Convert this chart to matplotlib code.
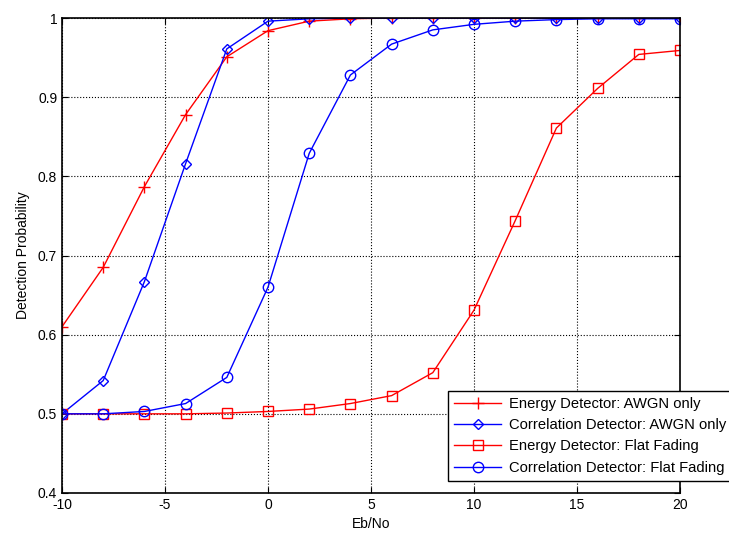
import matplotlib
matplotlib.use("Agg")
import matplotlib.pyplot as plt

plt.rcParams['font.family'] = ['Liberation Sans', 'DejaVu Sans']
plt.rcParams['axes.unicode_minus'] = False

ebno = [-10, -8, -6, -4, -2, 0, 2, 4, 6, 8, 10, 12, 14, 16, 18, 20]
energy_awgn = [0.610, 0.685, 0.787, 0.878, 0.951, 0.984, 0.996, 0.999, 1.0, 1.0, 1.0, 1.0, 1.0, 1.0, 1.0, 1.0]
corr_awgn = [0.500, 0.542, 0.667, 0.816, 0.961, 0.996, 0.999, 1.0, 1.0, 1.0, 1.0, 1.0, 1.0, 1.0, 1.0, 1.0]
energy_fading = [0.500, 0.500, 0.500, 0.500, 0.501, 0.503, 0.506, 0.513, 0.523, 0.552, 0.631, 0.744, 0.861, 0.911, 0.954, 0.959]
corr_fading = [0.500, 0.500, 0.503, 0.513, 0.546, 0.660, 0.829, 0.928, 0.967, 0.985, 0.992, 0.996, 0.998, 0.999, 0.999, 0.999]

labels = ["Energy Detector: AWGN only", "Correlation Detector: AWGN only",
          "Energy Detector: Flat Fading", "Correlation Detector: Flat Fading"]
xticks = [-10, -5, 0, 5, 10, 15, 20]
yticks = [0.4, 0.5, 0.6, 0.7, 0.8, 0.9, 1.0]
yticklabels = ["0.4", "0.5", "0.6", "0.7", "0.8", "0.9", "1"]

fig = plt.figure(figsize=(7.29, 5.33), dpi=100)
ax = fig.add_axes([62/729, 40/533, 618/729, 475/533])

ax.plot(ebno, energy_awgn, color='red', marker='+', markersize=9, lw=1, mew=1, label=labels[0])
ax.plot(ebno, corr_awgn, color='blue', marker='D', markersize=5.5, lw=1, mew=1, mfc='none', label=labels[1])
ax.plot(ebno, energy_fading, color='red', marker='s', markersize=7.5, lw=1, mew=1, mfc='none', label=labels[2])
ax.plot(ebno, corr_fading, color='blue', marker='o', markersize=7.5, lw=1, mew=1, mfc='none', label=labels[3])

ax.set_xlim(-10, 20)
ax.set_ylim(0.4, 1.0)
ax.set_xticks(xticks)
ax.set_yticks(yticks)
ax.set_yticklabels(yticklabels)
ax.grid(True, color='black', linestyle=':', linewidth=0.8)
ax.tick_params(direction='in', top=True, right=True, labelsize=10, length=4)
for s in ax.spines.values():
    s.set_linewidth(1.2)
ax.set_xlabel("Eb/No", fontsize=10, labelpad=4)
ax.set_ylabel("Detection Probability", fontsize=10, labelpad=6)

leg = ax.legend(loc='upper left', bbox_to_anchor=(0.625, 0.215), fontsize=10.6,
                frameon=True, fancybox=False, framealpha=1, edgecolor='black',
                borderaxespad=0, handlelength=3.2, borderpad=0.4, labelspacing=0.5,
                handletextpad=0.5)
leg.get_frame().set_linewidth(1.0)

fig.savefig("out.png", dpi=100)
